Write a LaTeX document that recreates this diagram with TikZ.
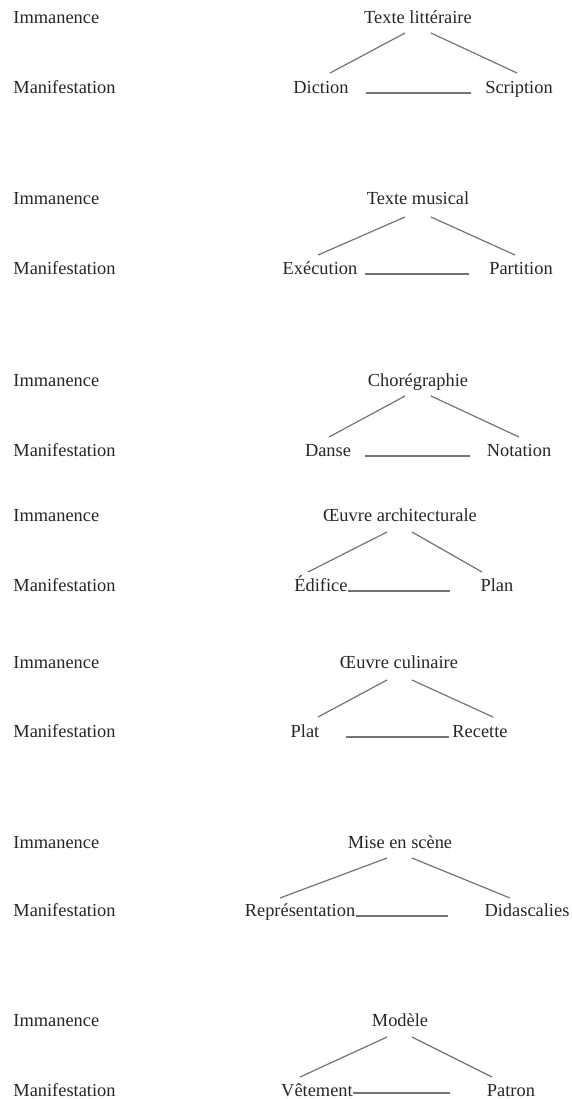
\documentclass[tikz,border=0pt]{standalone}
\usepackage{fontspec}
\setmainfont{Liberation Serif}
\usepackage{tikz}
\tikzset{
    level/.style={anchor=base west, inner sep=0pt, text=black!85},
    term/.style={anchor=base, inner sep=0pt, text=black!85},
    link/.style={draw=black!55, line width=0.6pt}
}

\begin{document}
\begin{tikzpicture}[x=0.5pt, y=-0.5pt, font=\fontsize{9.2}{11}\selectfont]
    \useasboundingbox (0,0) rectangle (572,1099);

    % Texte litteraire
    \node (imma) [level] at (13,23) {Immanence};
    \node (mana) [level] at (13,93) {Manifestation};
    \node (texlit) [term] at (418,23) {Texte littéraire};
    \node (diction) [term] at (321,93) {Diction};
    \node (scription) [term] at (519,93) {Scription};
    \draw[link] ([shift={(-13,10)}]texlit.base) -- ([shift={(9,-20)}]diction.base);
    \draw[link] ([shift={(13,10)}]texlit.base) -- ([shift={(-2,-20)}]scription.base);
    \draw[link] ([shift={(17,0)}]diction.base east) -- ([shift={(-14,0)}]scription.base west);

    % Texte musical
    \node (immb) [level] at (13,204) {Immanence};
    \node (manb) [level] at (13,274) {Manifestation};
    \node (texmus) [term] at (418,204) {Texte musical};
    \node (execution) [term] at (320,274) {Exécution};
    \node (partition) [term] at (521,274) {Partition};
    \draw[link] ([shift={(-13,13)}]texmus.base) -- ([shift={(-2,-19)}]execution.base);
    \draw[link] ([shift={(13,13)}]texmus.base) -- ([shift={(-6,-19)}]partition.base);
    \draw[link] ([shift={(7,0)}]execution.base east) -- ([shift={(-20,0)}]partition.base west);

    % Choregraphie
    \node (immc) [level] at (13,386) {Immanence};
    \node (manc) [level] at (13,456) {Manifestation};
    \node (choreg) [term] at (418,386) {Chorégraphie};
    \node (danse) [term] at (328,456) {Danse};
    \node (notation) [term] at (519,456) {Notation};
    \draw[link] ([shift={(-13,10)}]choreg.base) -- ([shift={(1,-19)}]danse.base);
    \draw[link] ([shift={(13,10)}]choreg.base) -- ([shift={(0,-19)}]notation.base);
    \draw[link] ([shift={(14,0)}]danse.base east) -- ([shift={(-16,0)}]notation.base west);

    % Oeuvre architecturale
    \node (immd) [level] at (13,521) {Immanence};
    \node (mand) [level] at (13,591) {Manifestation};
    \node (oeuarch) [term] at (400,521) {Œuvre architecturale};
    \node (edifice) [term] at (321,591) {Édifice};
    \node (plan) [term] at (497,591) {Plan};
    \draw[link] ([shift={(-13,11)}]oeuarch.base) -- ([shift={(-13,-19)}]edifice.base);
    \draw[link] ([shift={(12,11)}]oeuarch.base) -- ([shift={(-15,-19)}]plan.base);
    \draw[link] (edifice.base east) -- ([shift={(-30,0)}]plan.base west);

    % Oeuvre culinaire
    \node (imme) [level] at (13,668) {Immanence};
    \node (mane) [level] at (13,737) {Manifestation};
    \node (oeucul) [term] at (399,668) {Œuvre culinaire};
    \node (plat) [term] at (305,737) {Plat};
    \node (recette) [term] at (480,737) {Recette};
    \draw[link] ([shift={(-12,12)}]oeucul.base) -- ([shift={(13,-20)}]plat.base);
    \draw[link] ([shift={(13,12)}]oeucul.base) -- ([shift={(13,-20)}]recette.base);
    \draw[link] ([shift={(26,0)}]plat.base east) -- ([shift={(-3,0)}]recette.base west);

    % Mise en scene
    \node (immf) [level] at (13,848) {Immanence};
    \node (manf) [level] at (13,916) {Manifestation};
    \node (misesc) [term] at (400,848) {Mise en scène};
    \node (repres) [term] at (300,916) {Représentation};
    \node (didasc) [term] at (527,916) {Didascalies};
    \draw[link] ([shift={(-13,10)}]misesc.base) -- ([shift={(-20,-18)}]repres.base);
    \draw[link] ([shift={(12,10)}]misesc.base) -- ([shift={(-17,-18)}]didasc.base);
    \draw[link] (repres.base east) -- ([shift={(-36,0)}]didasc.base west);

    % Modele
    \node (immg) [level] at (13,1026) {Immanence};
    \node (mang) [level] at (13,1096) {Manifestation};
    \node (modele) [term] at (400,1026) {Modèle};
    \node (vetement) [term] at (317,1096) {Vêtement};
    \node (patron) [term] at (511,1096) {Patron};
    \draw[link] ([shift={(-13,11)}]modele.base) -- ([shift={(-17,-19)}]vetement.base);
    \draw[link] ([shift={(12,11)}]modele.base) -- ([shift={(-19,-19)}]patron.base);
    \draw[link] ([shift={(0,-3)}]vetement.base east) -- ([shift={(-37,-3)}]patron.base west);
\end{tikzpicture}
\end{document}
